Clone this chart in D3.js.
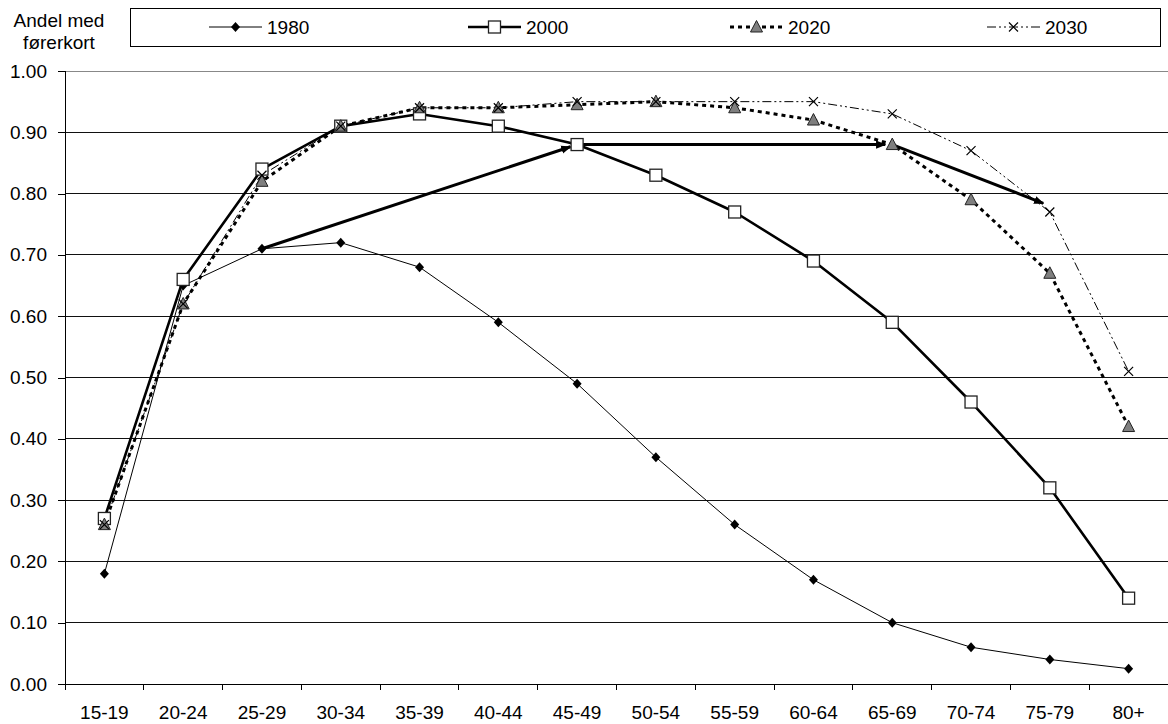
<!DOCTYPE html>
<html>
<head>
<meta charset="utf-8">
<script src="https://cdn.jsdelivr.net/npm/d3@7"></script>
<style>
  html, body { margin: 0; padding: 0; background: #fff; }
  svg { display: block; font-family: "Liberation Sans", Arial, sans-serif; }
</style>
</head>
<body>
<svg id="chart" width="1168" height="724"></svg>
<script>
// Age groups
const ageGroups = ["15-19","20-24","25-29","30-34","35-39","40-44","45-49","50-54","55-59","60-64","65-69","70-74","75-79","80+"];

// Share of population holding a driving licence, by year
const v1980 = [0.18, 0.65, 0.71, 0.72, 0.68, 0.59, 0.49, 0.37, 0.26, 0.17, 0.10, 0.06, 0.04, 0.025];
const v2000 = [0.27, 0.66, 0.84, 0.91, 0.93, 0.91, 0.88, 0.83, 0.77, 0.69, 0.59, 0.46, 0.32, 0.14];
const v2020 = [0.26, 0.62, 0.82, 0.91, 0.94, 0.94, 0.945, 0.95, 0.94, 0.92, 0.88, 0.79, 0.67, 0.42];
const v2030 = [0.26, 0.62, 0.83, 0.91, 0.94, 0.94, 0.95, 0.95, 0.95, 0.95, 0.93, 0.87, 0.77, 0.51];

// Cohort followed over time: [age group, share]
const cohortPath = [["25-29", 0.71], ["45-49", 0.88], ["65-69", 0.88], ["75-79", 0.78]];

const yTicks = [0, 0.1, 0.2, 0.3, 0.4, 0.5, 0.6, 0.7, 0.8, 0.9, 1.0];

const FONT = 19;
const svg = d3.select("#chart");
const margin = { left: 65, right: 0, top: 71 };
const W = 1168;
const plotBottom = 684;

const x = d3.scaleBand().domain(ageGroups).range([margin.left, W - margin.right]).padding(0);
const y = d3.scaleLinear().domain([0, 1]).range([plotBottom, margin.top]);
const cx = d => x(d) + x.bandwidth() / 2;

// arrowhead marker
const defs = svg.append("defs");
defs.append("marker")
  .attr("id", "arrow")
  .attr("viewBox", "0 0 10 10")
  .attr("refX", 9).attr("refY", 5)
  .attr("markerWidth", 3.4).attr("markerHeight", 3.4)
  .attr("markerUnits", "strokeWidth")
  .attr("orient", "auto")
  .append("path").attr("d", "M0,1 L10,5 L0,9 Z").attr("fill", "#000");

// gridlines
svg.append("g").selectAll("line")
  .data(yTicks.filter(t => t > 0))
  .join("line")
  .attr("x1", margin.left).attr("x2", W)
  .attr("y1", d => y(d)).attr("y2", d => y(d))
  .attr("stroke", d => d === 1 ? "#888" : "#111")
  .attr("stroke-width", 1)
  .attr("shape-rendering", "crispEdges");

// y axis
const yAxis = d3.axisLeft(y).tickValues(yTicks).tickFormat(d3.format(".2f")).tickSize(7).tickPadding(11);
const gy = svg.append("g").attr("transform", `translate(${margin.left},0)`).call(yAxis);
gy.select(".domain").attr("stroke", "#000").attr("shape-rendering", "crispEdges");
gy.selectAll(".tick line").attr("stroke", "#000").attr("shape-rendering", "crispEdges");
gy.selectAll("text").attr("font-size", FONT).attr("fill", "#000").attr("font-family", "Liberation Sans, Arial, sans-serif");

// x axis: ticks at category boundaries
const gx = svg.append("g").attr("transform", `translate(0,${plotBottom})`);
gx.append("line").attr("x1", margin.left).attr("x2", W).attr("y1", 0).attr("y2", 0)
  .attr("stroke", "#000").attr("shape-rendering", "crispEdges");
gx.selectAll("line.tk").data(ageGroups).join("line").attr("class", "tk")
  .attr("x1", d => x(d)).attr("x2", d => x(d)).attr("y1", 0).attr("y2", 6)
  .attr("stroke", "#000").attr("shape-rendering", "crispEdges");
gx.selectAll("text").data(ageGroups).join("text")
  .attr("x", d => cx(d)).attr("y", 35)
  .attr("text-anchor", "middle").attr("font-size", FONT).attr("fill", "#000")
  .text(d => d);

// series definitions
const series = [
  { name: "1980", values: v1980, width: 1, dash: null, marker: "diamond" },
  { name: "2000", values: v2000, width: 2.6, dash: null, marker: "square" },
  { name: "2020", values: v2020, width: 3, dash: "4,4", marker: "triangle" },
  { name: "2030", values: v2030, width: 1, dash: "9,3,2,3,2,3", marker: "cross" }
];

const line = d3.line().x((d, i) => cx(ageGroups[i])).y(d => y(d));

function drawMarker(g, type, px, py) {
  if (type === "diamond") {
    g.append("path").attr("d", `M${px},${py - 5} L${px + 4.5},${py} L${px},${py + 5} L${px - 4.5},${py} Z`)
      .attr("fill", "#000");
  } else if (type === "square") {
    g.append("rect").attr("x", px - 6).attr("y", py - 6).attr("width", 12).attr("height", 12)
      .attr("fill", "#fff").attr("stroke", "#222").attr("stroke-width", 1.3);
  } else if (type === "triangle") {
    g.append("path").attr("d", `M${px},${py - 6.5} L${px + 6},${py + 5} L${px - 6},${py + 5} Z`)
      .attr("fill", "#7f7f7f").attr("stroke", "#222").attr("stroke-width", 1);
  } else if (type === "cross") {
    g.append("path").attr("d", `M${px - 4.5},${py - 4.5} L${px + 4.5},${py + 4.5} M${px - 4.5},${py + 4.5} L${px + 4.5},${py - 4.5}`)
      .attr("stroke", "#000").attr("stroke-width", 1.2).attr("fill", "none");
  }
}

// lines
const gl = svg.append("g");
series.forEach(s => {
  gl.append("path").datum(s.values).attr("d", line)
    .attr("fill", "none").attr("stroke", "#000").attr("stroke-width", s.width)
    .attr("stroke-dasharray", s.dash).attr("stroke-linejoin", "round");
});

// cohort arrows
const ga = svg.append("g");
for (let i = 0; i < cohortPath.length - 1; i++) {
  const a = cohortPath[i], b = cohortPath[i + 1];
  const x1 = cx(a[0]), y1 = y(a[1]), x2 = cx(b[0]), y2 = y(b[1]);
  const len = Math.hypot(x2 - x1, y2 - y1);
  const shrink = 7;
  const ex = x2 - (x2 - x1) / len * shrink, ey = y2 - (y2 - y1) / len * shrink;
  ga.append("line").attr("x1", x1).attr("y1", y1).attr("x2", ex).attr("y2", ey)
    .attr("stroke", "#000").attr("stroke-width", 3).attr("marker-end", "url(#arrow)");
}

// markers
const gm = svg.append("g");
series.forEach(s => {
  s.values.forEach((v, i) => drawMarker(gm, s.marker, cx(ageGroups[i]), y(v)));
});

// legend
const lg = svg.append("g");
lg.append("rect").attr("x", 130.5).attr("y", 8.5).attr("width", 1030).attr("height", 38)
  .attr("fill", "#fff").attr("stroke", "#000").attr("stroke-width", 1);
const legendX = [209, 468, 730, 987];
series.forEach((s, i) => {
  const x0 = legendX[i], x1 = x0 + 53, my = 27;
  lg.append("line").attr("x1", x0).attr("x2", x1).attr("y1", my).attr("y2", my)
    .attr("stroke", "#000").attr("stroke-width", s.width).attr("stroke-dasharray", s.dash);
  drawMarker(lg, s.marker, (x0 + x1) / 2, my);
  lg.append("text").attr("x", x1 + 5).attr("y", my + 7).attr("font-size", FONT).attr("fill", "#000").text(s.name);
});

// y-axis title
const yt = svg.append("text").attr("text-anchor", "middle").attr("font-size", FONT).attr("fill", "#000");
yt.append("tspan").attr("x", 59).attr("y", 27).text("Andel med");
yt.append("tspan").attr("x", 59).attr("y", 49).text("førerkort");
</script>
</body>
</html>
